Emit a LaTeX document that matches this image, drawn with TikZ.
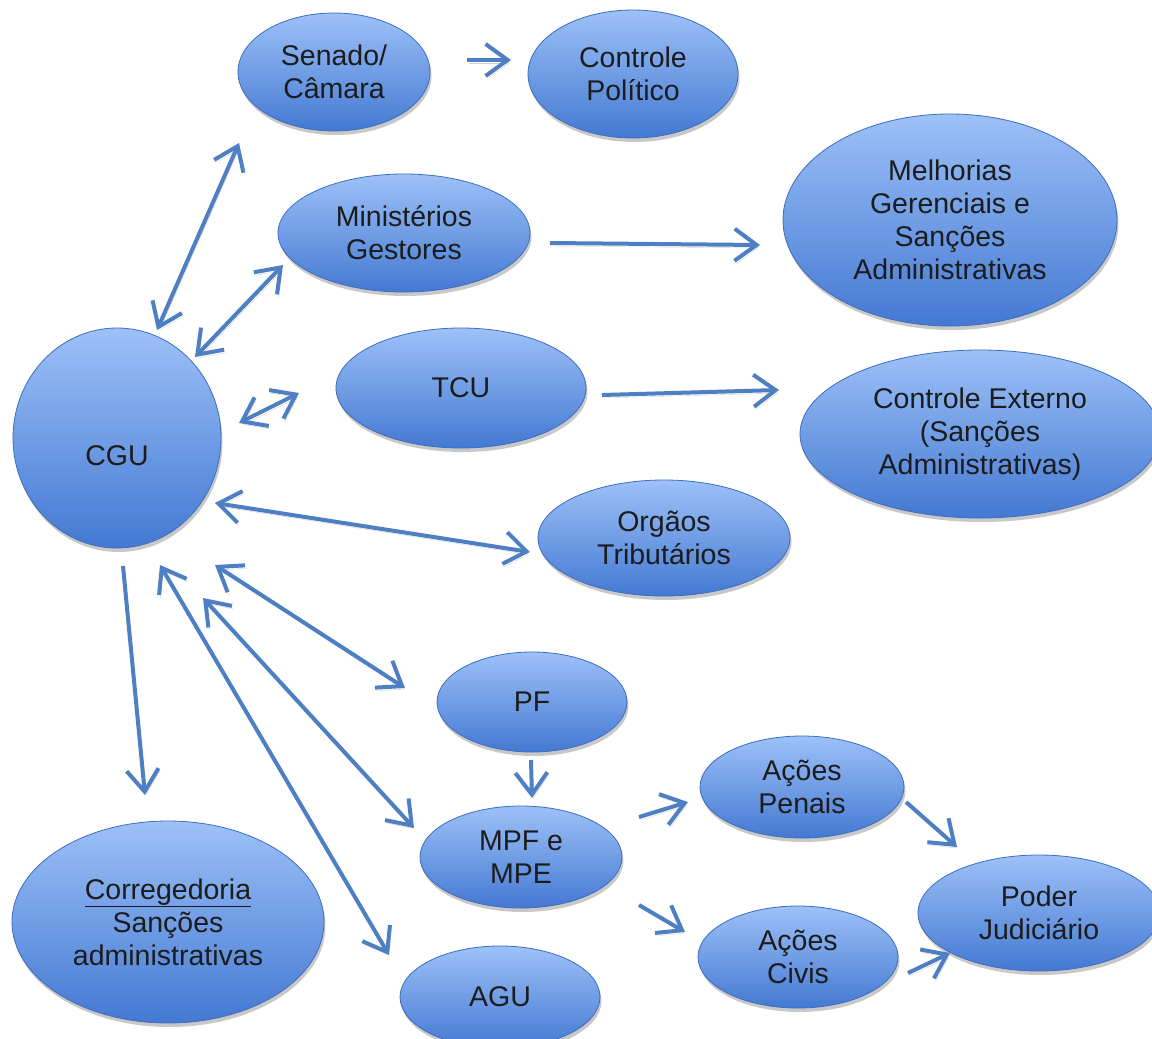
\documentclass[tikz,border=0pt]{standalone}
\usepackage{fontspec}
\setmainfont{Liberation Sans}
\usetikzlibrary{shapes.geometric,arrows.meta,shadows}
\definecolor{topblue}{HTML}{9DC1F8}
\definecolor{botblue}{HTML}{4479D2}
\definecolor{edgeblue}{HTML}{3D6DBE}
\definecolor{arrblue}{HTML}{4F7FC3}
\definecolor{txt}{HTML}{1C1C1C}
\tikzset{
  bub/.style={ellipse, inner sep=0pt, top color=topblue, bottom color=botblue,
    draw=edgeblue, line width=0.8pt, text=txt, align=center,
    font=\fontsize{28.5}{33}\selectfont,
    drop shadow={shadow xshift=1.5pt, shadow yshift=-4pt, opacity=0.3, fill=black!70}},
  arrshadow/.style={preaction={draw=black, opacity=0.18, transform canvas={shift={(1.5pt,-3pt)}}}},
  conn/.style={draw=arrblue, line width=4pt, arrshadow,
    -{Straight Barb[length=22pt,width=32pt]}},
  conn2/.style={draw=arrblue, line width=4pt, arrshadow,
    {Straight Barb[length=22pt,width=32pt]}-{Straight Barb[length=22pt,width=32pt]}}
}
\begin{document}
\begin{tikzpicture}[x=1pt,y=-1pt]
\useasboundingbox (0,0) rectangle (1152,1039);
\clip (0,0) rectangle (1152,1039);
\fill[white] (0,0) rectangle (1152,1039);
% nodes
\node[bub, minimum width=192pt, minimum height=118pt] (sen) at (334,72) {Senado/\\Câmara};
\node[bub, minimum width=210pt, minimum height=128pt] (pol) at (633,74) {Controle\\Político};
\node[bub, minimum width=252pt, minimum height=118pt] (min) at (404,233) {Ministérios\\Gestores};
\node[bub, minimum width=334pt, minimum height=212pt] (mel) at (950,220) {Melhorias\\Gerenciais e\\Sanções\\Administrativas};
\node[bub, minimum width=208pt, minimum height=220pt] (cgu) at (117,438) {\raisebox{-27pt}[0pt][0pt]{CGU}};
\node[bub, minimum width=250pt, minimum height=120pt] (tcu) at (461,388) {TCU};
\node[bub, minimum width=360pt, minimum height=168pt] (ce) at (980,434) {Controle Externo\\(Sanções\\Administrativas)};
\node[bub, minimum width=252pt, minimum height=116pt] (org) at (664,538) {Orgãos\\Tributários};
\node[bub, minimum width=190pt, minimum height=100pt] (pf) at (532,702) {PF};
\node[bub, minimum width=204pt, minimum height=102pt] (pen) at (802,787) {Ações\\Penais};
\node[bub, minimum width=202pt, minimum height=102pt] (mpf) at (521,857) {MPF e\\MPE};
\node[bub, minimum width=242pt, minimum height=116pt] (pod) at (1039,913) {Poder\\Judiciário};
\node[bub, minimum width=200pt, minimum height=102pt] (civ) at (798,957) {Ações\\Civis};
\node[bub, minimum width=312pt, minimum height=202pt] (cor) at (168,922) {\underline{Corregedoria}\\Sanções\\administrativas};
\node[bub, minimum width=200pt, minimum height=102pt] (agu) at (500,997) {AGU};
% connector end points
\coordinate (a1s) at (467,60);  \coordinate (a1e) at (511,60);
\coordinate (a2s) at (157,330); \coordinate (a2e) at (239,143);
\coordinate (a3s) at (195,357); \coordinate (a3e) at (283,265);
\coordinate (a4s) at (239,423); \coordinate (a4e) at (299,393);
\coordinate (a5s) at (550,243); \coordinate (a5e) at (760,245);
\coordinate (a6s) at (602,395); \coordinate (a6e) at (779,390);
\coordinate (a7s) at (215,503); \coordinate (a7e) at (530,552);
\coordinate (a8s) at (215,565); \coordinate (a8e) at (405,688);
\coordinate (a9s) at (203,598); \coordinate (a9e) at (414,828);
\coordinate (a10s) at (160,565); \coordinate (a10e) at (389,955);
\coordinate (a11s) at (123,566); \coordinate (a11e) at (145,795);
\coordinate (a12s) at (531,760); \coordinate (a12e) at (532,798);
\coordinate (a13s) at (639,817); \coordinate (a13e) at (688,802);
\coordinate (a14s) at (639,905); \coordinate (a14e) at (685,932);
\coordinate (a15s) at (906,802); \coordinate (a15e) at (957,847);
\coordinate (a16s) at (908,973); \coordinate (a16e) at (950,953);
% connectors
\draw[conn] (a1s) -- (a1e);
\draw[conn2] (a2s) -- (a2e);
\draw[conn2] (a3s) -- (a3e);
\draw[conn2] (a4s) -- (a4e);
\draw[conn] (a5s) -- (a5e);
\draw[conn] (a6s) -- (a6e);
\draw[conn2] (a7s) -- (a7e);
\draw[conn2] (a8s) -- (a8e);
\draw[conn2] (a9s) -- (a9e);
\draw[conn2] (a10s) -- (a10e);
\draw[conn] (a11s) -- (a11e);
\draw[conn] (a12s) -- (a12e);
\draw[conn] (a13s) -- (a13e);
\draw[conn] (a14s) -- (a14e);
\draw[conn] (a15s) -- (a15e);
\draw[conn] (a16s) -- (a16e);
\end{tikzpicture}
\end{document}
